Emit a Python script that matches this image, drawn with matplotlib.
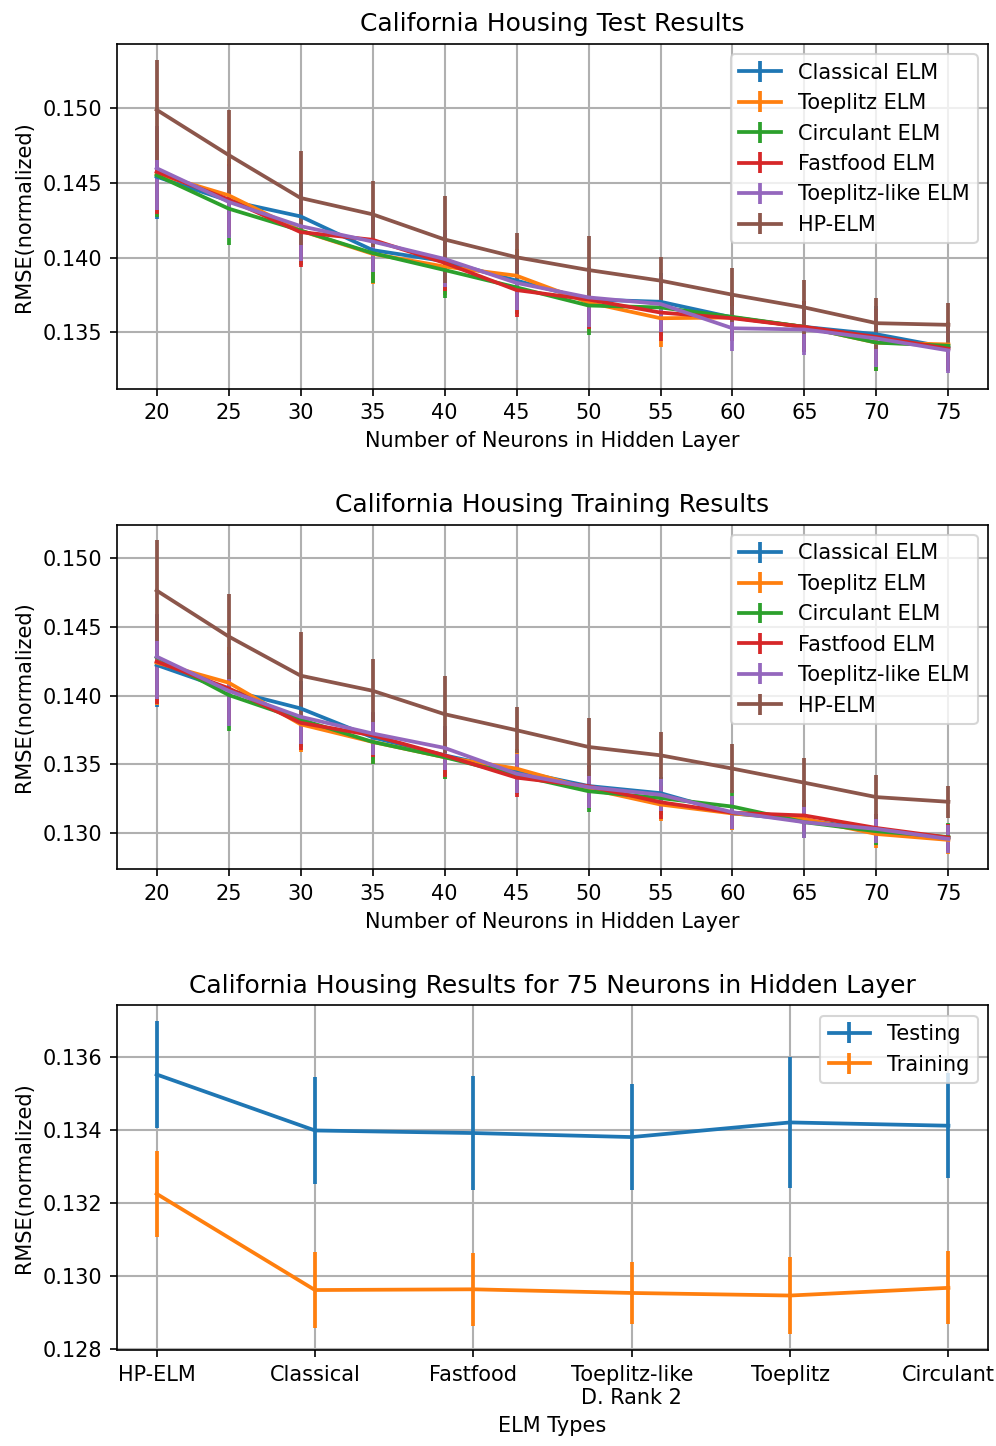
import numpy as np
import matplotlib
matplotlib.use("Agg")
import matplotlib.pyplot as plt

neurons = [20, 25, 30, 35, 40, 45, 50, 55, 60, 65, 70, 75]

series_names = [
    "Classical ELM",
    "Toeplitz ELM",
    "Circulant ELM",
    "Fastfood ELM",
    "Toeplitz-like ELM",
    "HP-ELM",
]

# test RMSE (normalized)
test_classical = [0.1454, 0.1438, 0.14275, 0.1405, 0.13976, 0.13846, 0.1372, 0.13705, 0.1360, 0.13537, 0.13488, 0.13398]
test_toeplitz = [0.1456, 0.14416, 0.1418, 0.14025, 0.1394, 0.13879, 0.1370, 0.13595, 0.1360, 0.13537, 0.13432, 0.1342]
test_circulant = [0.1455, 0.14327, 0.14181, 0.1403, 0.13917, 0.13801, 0.1368, 0.13667, 0.13604, 0.13537, 0.13432, 0.13411]
test_fastfood = [0.14573, 0.14388, 0.1417, 0.14119, 0.13965, 0.13783, 0.1372, 0.13633, 0.13595, 0.13537, 0.1347, 0.13391]
test_toeplitz_like = [0.14597, 0.14372, 0.1421, 0.14107, 0.13991, 0.13831, 0.13734, 0.1369, 0.13528, 0.1352, 0.1346, 0.1338]
test_hp = [0.14987, 0.14685, 0.14398, 0.14289, 0.14121, 0.14002, 0.13917, 0.13846, 0.13752, 0.13667, 0.13562, 0.13551]

test_err_common = [0.0028, 0.0024, 0.0023, 0.0020, 0.0019, 0.0018, 0.0020, 0.0019, 0.0015, 0.0017, 0.0019, 0.0015]
test_err_hp = [0.00335, 0.0030, 0.00315, 0.0022, 0.0029, 0.0016, 0.00225, 0.0016, 0.0018, 0.0018, 0.0017, 0.00146]

# training RMSE (normalized)
train_classical = [0.14223, 0.1404, 0.13906, 0.13695, 0.13564, 0.1345, 0.1334, 0.13288, 0.1314, 0.13091, 0.1302, 0.12962]
train_toeplitz = [0.1424, 0.14094, 0.1379, 0.13662, 0.1355, 0.13467, 0.1332, 0.13205, 0.1314, 0.1310, 0.1299, 0.12947]
train_circulant = [0.1428, 0.14004, 0.13825, 0.13662, 0.1355, 0.1342, 0.13302, 0.13252, 0.1319, 0.13076, 0.1301, 0.12968]
train_fastfood = [0.14248, 0.14053, 0.13801, 0.1371, 0.13564, 0.13401, 0.13339, 0.13222, 0.13145, 0.13125, 0.13034, 0.12964]
train_toeplitz_like = [0.14284, 0.14035, 0.13845, 0.13723, 0.13618, 0.1343, 0.13332, 0.13276, 0.13149, 0.13076, 0.13027, 0.12954]
train_hp = [0.14766, 0.14431, 0.14145, 0.14035, 0.13864, 0.13747, 0.13625, 0.13564, 0.13467, 0.13364, 0.13259, 0.13225]

train_err_common = [0.0031, 0.0026, 0.0020, 0.0016, 0.0016, 0.0014, 0.0015, 0.0012, 0.0012, 0.00115, 0.0010, 0.0010]
train_err_hp = [0.00366, 0.0031, 0.0032, 0.0023, 0.0028, 0.00166, 0.0021, 0.0017, 0.0018, 0.0018, 0.0016, 0.00118]

# results for 75 neurons
elm_types = ["HP-ELM", "Classical", "Fastfood", "Toeplitz-like\nD. Rank 2", "Toeplitz", "Circulant"]
testing_75 = [0.13551, 0.13398, 0.13391, 0.1338, 0.1342, 0.13411]
testing_75_err = [0.00146, 0.00145, 0.00156, 0.00146, 0.0018, 0.00143]
training_75 = [0.13225, 0.12962, 0.12964, 0.12954, 0.12947, 0.12968]
training_75_err = [0.00118, 0.00103, 0.0010, 0.00085, 0.00106, 0.0010]

LW = 1.8
DPI = 150


def plot_neuron_panel(ax, values, errs, title):
    for name, y, e in zip(series_names, values, errs):
        ax.errorbar(neurons, y, yerr=e, label=name, linewidth=LW, elinewidth=LW)
    ax.set_title(title)
    ax.set_xlabel("Number of Neurons in Hidden Layer")
    ax.set_ylabel("RMSE(normalized)")
    ax.set_xticks(neurons)
    ax.grid(True, color="#b0b0b0", linewidth=1.0)
    ax.legend(loc="upper right")


def main():
    fig, axes = plt.subplots(3, 1, figsize=(996 / DPI, 1446 / DPI), dpi=DPI)
    fig.subplots_adjust(left=0.1175, right=0.992, top=0.9696, bottom=0.0664, hspace=0.395)

    test_values = [test_classical, test_toeplitz, test_circulant, test_fastfood, test_toeplitz_like, test_hp]
    test_errs = [test_err_common] * 5 + [test_err_hp]
    plot_neuron_panel(axes[0], test_values, test_errs, "California Housing Test Results")

    train_values = [train_classical, train_toeplitz, train_circulant, train_fastfood, train_toeplitz_like, train_hp]
    train_errs = [train_err_common] * 5 + [train_err_hp]
    plot_neuron_panel(axes[1], train_values, train_errs, "California Housing Training Results")

    ax = axes[2]
    x = np.arange(len(elm_types))
    ax.errorbar(x, testing_75, yerr=testing_75_err, label="Testing", linewidth=LW, elinewidth=LW)
    ax.errorbar(x, training_75, yerr=training_75_err, label="Training", linewidth=LW, elinewidth=LW)
    ax.set_xticks(x)
    ax.set_xticklabels(elm_types)
    ax.set_title("California Housing Results for 75 Neurons in Hidden Layer")
    ax.set_xlabel("ELM Types")
    ax.set_ylabel("RMSE(normalized)")
    ax.grid(True, color="#b0b0b0", linewidth=1.0)
    ax.legend(loc="upper right")

    fig.savefig("out.png", dpi=DPI)
    plt.close(fig)


if __name__ == "__main__":
    main()
